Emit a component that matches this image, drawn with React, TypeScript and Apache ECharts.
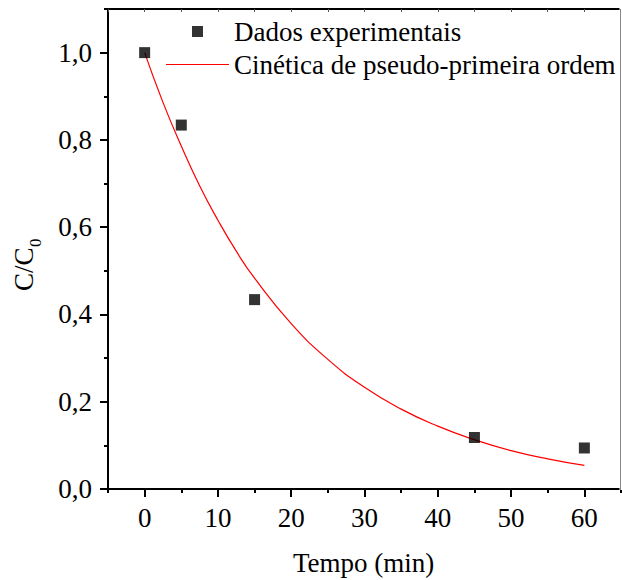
import React, { useEffect, useRef } from "react";
import * as echarts from "echarts";

const expTime = [0, 5, 15, 45, 60];
const expValue = [1.0, 0.834, 0.434, 0.118, 0.094];

const fitTime = [0, 2.5, 5, 7.5, 10, 12.5, 15, 20, 25, 30, 35, 40, 45, 50, 55, 60];
const fitValue = [1.0, 0.886, 0.786, 0.695, 0.616, 0.545, 0.483, 0.379, 0.297, 0.233, 0.183, 0.144, 0.113, 0.088, 0.069, 0.054];

const xMajor = [0, 10, 20, 30, 40, 50, 60];
const xMinor = [-5, 5, 15, 25, 35, 45, 55, 65];
const xTop = [-5, 0, 5, 10, 15, 20, 25, 30, 35, 40, 45, 50, 55, 60, 65];
const yMajor = [0, 0.2, 0.4, 0.6, 0.8, 1.0];
const yMinor = [0.1, 0.3, 0.5, 0.7, 0.9, 1.1];

const legendNames = ["Dados experimentais", "Cinética de pseudo-primeira ordem"];
const xTitle = "Tempo (min)";
const yTitleMain = "C/C";
const yTitleSub = "0";

const FONT = "'Liberation Serif', 'Times New Roman', serif";

export default function App() {
  const ref = useRef<HTMLDivElement>(null);
  useEffect(() => {
    if (!ref.current) return;
    const chart = echarts.init(ref.current, null, { renderer: "svg" });
    const X_MIN = -5, X_MAX = 65, Y_MIN = 0, Y_MAX = 1.1;
    const rect = { left: 108, top: 9, right: 1, bottom: 91 };
    chart.setOption({
      animation: false,
      grid: [
        { ...rect, show: true, borderColor: "#000", borderWidth: 2, backgroundColor: "transparent" },
        { ...rect },
        { ...rect },
      ],
      legend: {
        orient: "vertical",
        left: 161,
        top: 13,
        itemWidth: 63,
        itemHeight: 11,
        itemGap: 6,
        data: [
          { name: legendNames[0], icon: "path://M0 0H10V10H0Z" },
          { name: legendNames[1], icon: "path://M0 0H64V1.2H0Z" },
        ],
        textStyle: { fontFamily: FONT, fontSize: 27, color: "#000", lineHeight: 27 },
        selectedMode: false,
      },
      graphic: [
        {
          type: "line",
          shape: { x1: 621, y1: 8, x2: 621, y2: 490 },
          style: { stroke: "#ffffff", lineWidth: 3 },
          z: 10,
        },
        {
          type: "line",
          shape: { x1: 620.5, y1: 9, x2: 620.5, y2: 490 },
          style: { stroke: "#888888", lineWidth: 1 },
          z: 11,
        },
        {
          type: "text",
          left: 365 - 72,
          top: 549,
          style: { text: xTitle, fontFamily: FONT, fontSize: 27, fill: "#000" },
        },
        {
          type: "text",
          x: 10,
          y: 291,
          rotation: Math.PI / 2,
          style: { text: yTitleMain, fontFamily: FONT, fontSize: 27, fill: "#000" },
        },
        {
          type: "text",
          x: 27,
          y: 247,
          rotation: Math.PI / 2,
          style: { text: yTitleSub, fontFamily: FONT, fontSize: 17, fill: "#000" },
        },
      ],
      xAxis: [
        {
          type: "value",
          gridIndex: 0,
          min: X_MIN,
          max: X_MAX,
          interval: 5,
          axisLine: { show: true, onZero: false, lineStyle: { color: "#000", width: 2 } },
          axisTick: { show: true, customValues: xMajor, length: 8, lineStyle: { color: "#000", width: 2 } },
          axisLabel: { customValues: xMajor, margin: 15, fontFamily: FONT, fontSize: 27, color: "#000" },
          splitLine: { show: false },
        },
        {
          type: "value",
          gridIndex: 1,
          min: X_MIN,
          max: X_MAX,
          interval: 5,
          axisLine: { show: false, onZero: false },
          axisTick: { show: true, customValues: xMinor, length: 4, lineStyle: { color: "#000", width: 2 } },
          axisLabel: { show: false },
          splitLine: { show: false },
        },
        {
          type: "value",
          gridIndex: 2,
          position: "top",
          min: X_MIN,
          max: X_MAX,
          interval: 5,
          axisLine: { show: false, onZero: false },
          axisTick: { show: true, inside: true, customValues: xTop, length: 3, lineStyle: { color: "#555", width: 1 } },
          axisLabel: { show: false },
          splitLine: { show: false },
        },
      ],
      yAxis: [
        {
          type: "value",
          gridIndex: 0,
          min: Y_MIN,
          max: Y_MAX,
          interval: 0.1,
          axisLine: { show: true, onZero: false, lineStyle: { color: "#000", width: 2 } },
          axisTick: { show: true, customValues: yMajor, length: 8, lineStyle: { color: "#000", width: 2 } },
          axisLabel: {
            customValues: yMajor,
            margin: 16,
            fontFamily: FONT,
            fontSize: 27,
            color: "#000",
            formatter: (v: number) => v.toFixed(1).replace(".", ","),
          },
          splitLine: { show: false },
        },
        {
          type: "value",
          gridIndex: 1,
          min: Y_MIN,
          max: Y_MAX,
          interval: 0.1,
          axisLine: { show: false, onZero: false },
          axisTick: { show: true, customValues: yMinor, length: 4, lineStyle: { color: "#000", width: 2 } },
          axisLabel: { show: false },
          splitLine: { show: false },
        },
        {
          type: "value",
          gridIndex: 2,
          position: "right",
          min: Y_MIN,
          max: Y_MAX,
          interval: 0.1,
          axisLine: { show: false, onZero: false },
          axisTick: { show: false },
          axisLabel: { show: false },
          splitLine: { show: false },
        },
      ],
      series: [
        {
          name: legendNames[0],
          type: "scatter",
          xAxisIndex: 0,
          yAxisIndex: 0,
          symbol: "rect",
          symbolSize: 11,
          itemStyle: { color: "#000" },
          data: expTime.map((t, i) => [t, expValue[i]]),
          z: 3,
        },
        {
          name: legendNames[1],
          type: "line",
          xAxisIndex: 0,
          yAxisIndex: 0,
          smooth: true,
          showSymbol: false,
          symbol: "none",
          lineStyle: { color: "#ff0000", width: 1.2 },
          itemStyle: { color: "#ff0000" },
          data: fitTime.map((t, i) => [t, fitValue[i]]),
          z: 2,
        },
      ],
    });
    return () => chart.dispose();
  }, []);
  return (
    <div style={{ position: "fixed", left: 0, top: 0, width: 622, height: 580, background: "#fff" }}>
      <div ref={ref} style={{ position: "absolute", left: 0, top: 0, width: 622, height: 580 }} />
    </div>
  );
}
